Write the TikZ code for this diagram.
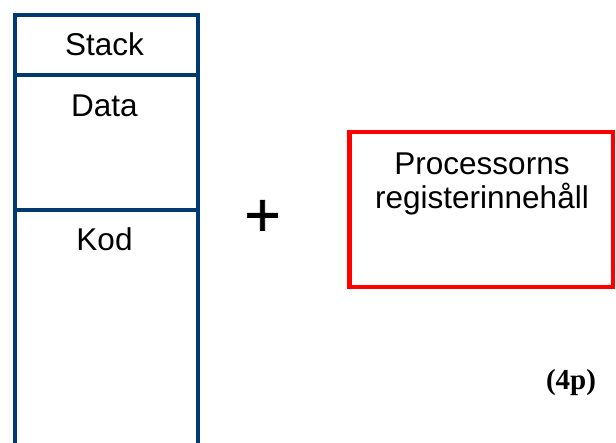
\documentclass[tikz,border=0pt]{standalone}
\usepackage{fontspec}
\setmainfont{Liberation Sans}
\newfontfamily\timesbold{Liberation Serif}
\newfontfamily\plusfont[FakeBold=1]{Liberation Sans}
\definecolor{segblue}{RGB}{0,58,112}
\definecolor{regred}{RGB}{255,0,0}
\begin{document}
\begin{tikzpicture}[x=1pt,y=-1pt,
  segbox/.style={draw=segblue, line width=4pt, minimum width=183pt, inner sep=0pt, anchor=north west},
  lbl/.style={anchor=base, font=\fontsize{31.5}{33.5}\selectfont, inner sep=0pt},
  regbox/.style={draw=regred, line width=4.5pt, inner sep=0pt}]
\useasboundingbox (0,0) rectangle (616,442);
\clip (0,0) rectangle (616,442);
\node[segbox, minimum height=135pt] (data) at (13,73) {};
\node[segbox, minimum height=250pt] (kod) at (13,208) {};
\node[segbox, minimum height=60pt] (stack) at (13,13) {};
\node[lbl] (tstack) at (104.5,55) {Stack};
\node[lbl] (tdata) at (104.5,116) {Data};
\node[lbl] (tkod) at (104.5,250) {Kod};
\node[regbox, minimum width=263.5pt, minimum height=155pt] (reg) at (481.25,209.5) {};
\node[lbl, align=center] (treg) at (482,208) {Processorns\\registerinnehåll};
\node[font=\plusfont\fontsize{62}{62}\selectfont, inner sep=0pt] (plus) at (262.5,218) {+};
\node[font=\timesbold\bfseries\fontsize{29}{31}\selectfont, inner sep=0pt] (pts) at (571,383) {(4p)};
\end{tikzpicture}
\end{document}
